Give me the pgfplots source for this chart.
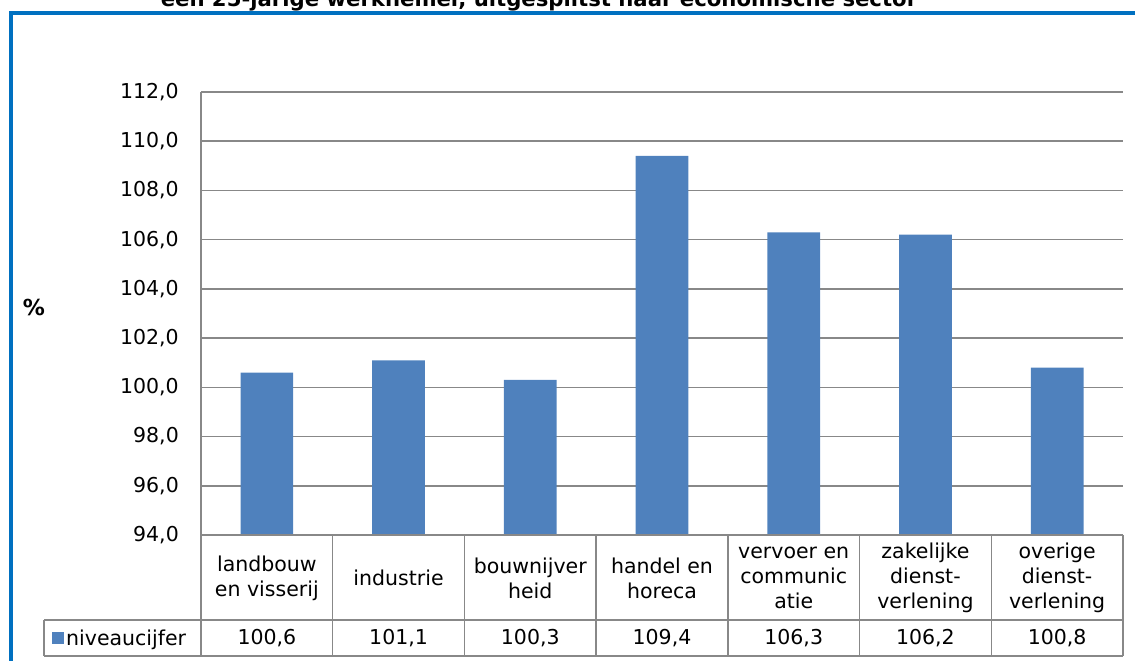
\documentclass[border=0pt]{standalone}
\usepackage{pgfplots}
\pgfplotsset{compat=1.18}
\usepackage{fontspec}
\setmainfont{DejaVu Sans}
\definecolor{barblue}{HTML}{4F81BD}
\definecolor{frameblue}{HTML}{0070C0}
\definecolor{gridgray}{HTML}{888888}
\begin{document}
\begin{tikzpicture}[x=1pt,y=1pt]
\useasboundingbox (0,0) rectangle (1135,661);
\begin{scope}
\clip (0,0) rectangle (1135,661);
% frame
\draw[frameblue, line width=4pt] (11,-10) -- (11,648) -- (1145,648);
% title
\node[anchor=base, inner sep=0pt, font=\fontsize{21.2}{25}\selectfont\bfseries] at (539,654) {een 25-jarige werknemer, uitgesplitst naar economische sector};
\end{scope}
\node[font=\fontsize{22}{26}\selectfont\bfseries, inner sep=0pt] at (34,354) {\%};
\begin{axis}[
  at={(201pt,126pt)}, anchor=south west,
  scale only axis, width=922pt, height=443pt,
  xmin=-0.5, xmax=6.5, ymin=94, ymax=112,
  ytick={94,96,...,112},
  xtick={0,...,6},
  xticklabels={{landbouw\\en visserij},{industrie},{bouwnijver\\heid},{handel en\\horeca},{vervoer en\\communic\\atie},{zakelijke\\dienst-\\verlening},{overige\\dienst-\\verlening}},
  extra x ticks={0,...,6},
  extra x tick labels={{100,6},{101,1},{100,3},{109,4},{106,3},{106,2},{100,8}},
  extra x tick style={xticklabel style={yshift=-60pt}},
  major tick length=0pt,
  axis lines*=left,
  axis line style={-, draw=gridgray, line width=1.5pt},
  ymajorgrids,
  grid style={draw=gridgray, line width=1.5pt},
  font=\fontsize{20.5}{25}\selectfont,
  x tick label style={anchor=center, yshift=-43pt, align=center, font=\fontsize{20.5}{25}\selectfont},
  y tick label style={anchor=east, xshift=-22pt, inner sep=0pt, font=\fontsize{20.5}{25}\selectfont},
  /pgf/number format/.cd, fixed, fixed zerofill, precision=1, use comma, 1000 sep={}, assume math mode=true,
  /pgfplots/.cd,
  ybar, bar width=52.7pt,
  legend style={at={(-0.1616,-0.2325)}, anchor=west, draw=none, fill=none, inner sep=0pt, font=\fontsize{20.5}{25}\selectfont},
  legend image code/.code={\fill[#1] (0pt,-6pt) rectangle (12pt,6pt);},
]
\addplot[fill=barblue, draw=none] coordinates {(0,100.6) (1,101.1) (2,100.3) (3,109.4) (4,106.3) (5,106.2) (6,100.8)};
\addlegendentry{niveaucijfer}
\end{axis}
% data table borders
\begin{scope}[draw=gridgray, line width=1.5pt]
\draw (201,126) -- (1123,126);
\draw (44,41) -- (1123,41);
\draw (44,5) -- (1123,5);
\draw (44,5) -- (44,41);
\foreach \k in {0,...,7} { \draw (201+\k*131.714,5) -- (201+\k*131.714,126); }
\end{scope}
\end{tikzpicture}
\end{document}
